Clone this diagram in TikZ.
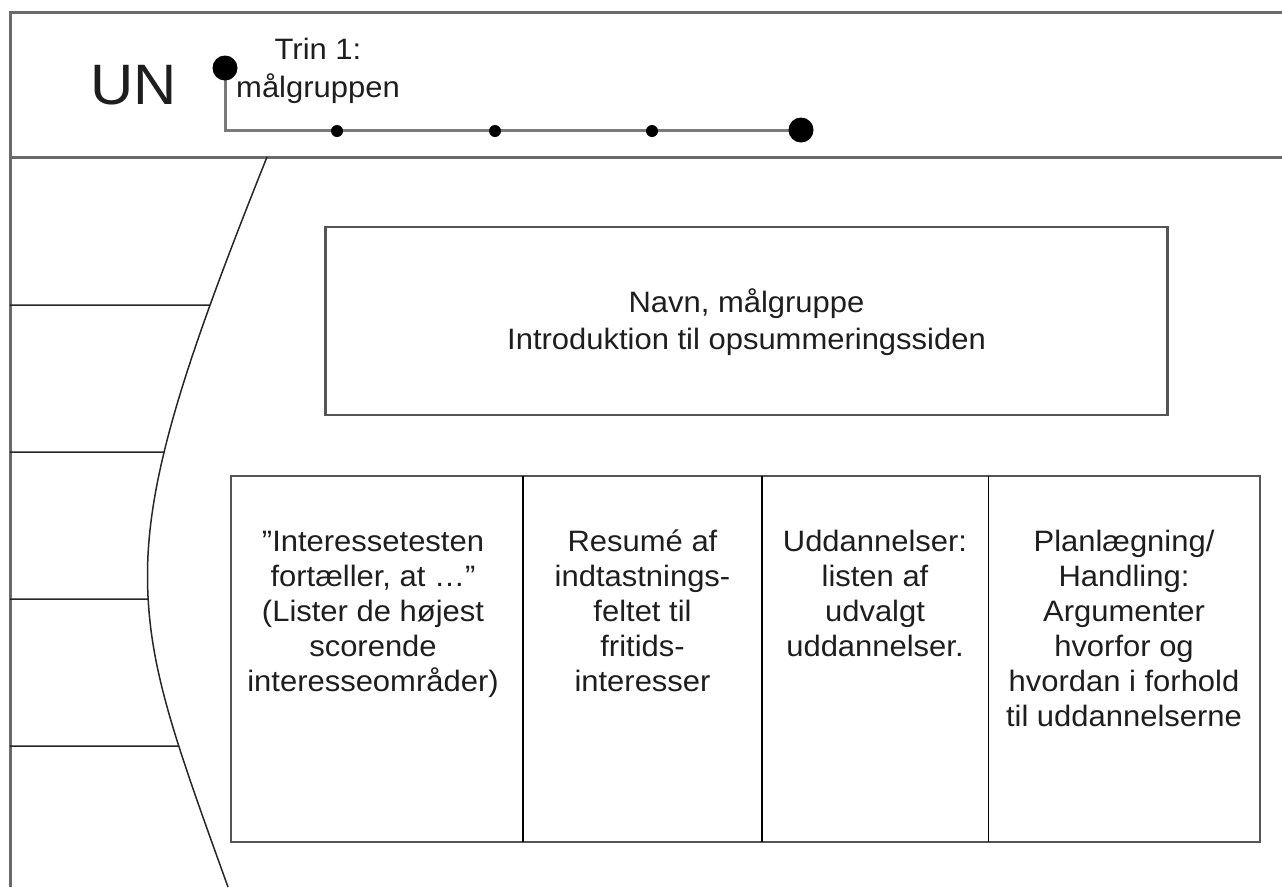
\documentclass[tikz,border=0pt]{standalone}
\usepackage{fontspec}
\setmainfont[FakeStretch=1.05]{Liberation Sans}
\usetikzlibrary{intersections}
\definecolor{framegray}{HTML}{6A6A6A}
\definecolor{linegray}{HTML}{7A7A7A}
\definecolor{boxgray}{HTML}{555555}
\definecolor{txtcol}{HTML}{1E1E1E}
\tikzset{
  frameline/.style={draw=framegray, line width=3pt},
  timeline/.style={draw=linegray, line width=3pt},
  bigdot/.style={circle, fill=black, inner sep=0pt, minimum size=25pt},
  smalldot/.style={circle, fill=black, inner sep=0pt, minimum size=12pt},
  boxline/.style={draw=boxgray, line width=2.5pt},
  divline/.style={draw=black, line width=1.5pt},
  thinline/.style={draw=black!85, line width=1.5pt},
  txt/.style={inner sep=0pt, anchor=north, align=center, text=txtcol, font=\fontsize{29.5}{35}\selectfont},
}
\begin{document}
\begin{tikzpicture}[x=1pt, y=-1pt]
\useasboundingbox (0,0) rectangle (1282,887);
% outer frame and header rule
\draw[frameline] (10,887) -- (10,12) -- (1282,12);
\draw[frameline] (10,157) -- (1282,157);
% title
\node[inner sep=0pt, anchor=base, text=txtcol, font=\fontsize{57}{64}\selectfont] (un) at (134,104) {UN};
% timeline
\coordinate (p0) at (225,68);
\coordinate (p1) at (337,131);
\coordinate (p2) at (495,131);
\coordinate (p3) at (652,131);
\coordinate (p4) at (801,130);
\draw[timeline] (p0) |- (p4);
\node[bigdot] (d0) at (p0) {};
\node[smalldot] (d1) at (p1) {};
\node[smalldot] (d2) at (p2) {};
\node[smalldot] (d3) at (p3) {};
\node[bigdot] (d4) at (p4) {};
\node[txt, font=\fontsize{29.5}{38}\selectfont] (trin) at (318,32.4) {\strut Trin 1:\\målgruppen};
% curved edge
\draw[thinline, name path=edge] (267,157) .. controls (187,357) and (147.5,475) .. (147.5,575)
  .. controls (147.5,665) and (174,737) .. (228,887);
% left horizontal rules
\path[name path=h1] (10,305) -- (300,305);
\path[name path=h2] (10,452) -- (300,452);
\path[name path=h3] (10,599) -- (300,599);
\path[name path=h4] (10,746) -- (300,746);
\draw[thinline, name intersections={of=edge and h1}] (10,305) -- (intersection-1);
\draw[thinline, name intersections={of=edge and h2}] (10,452) -- (intersection-1);
\draw[thinline, name intersections={of=edge and h3}] (10,599) -- (intersection-1);
\draw[thinline, name intersections={of=edge and h4}] (10,746) -- (intersection-1);
% top box
\draw[boxline] (325.5,227) rectangle (1167.5,415);
\node[txt, font=\fontsize{29.5}{37.5}\selectfont] (navn) at (746.5,286) {\strut Navn, målgruppe\\Introduktion til opsummeringssiden};
% bottom boxes
\draw[boxline] (231,476) rectangle (1260,842);
\draw[divline] (523,476) -- (523,842);
\draw[divline] (762,476) -- (762,842);
\draw[divline] (988.5,476) -- (988.5,842);
\node[txt] (c1) at (373,526.5) {\strut ”Interessetesten\\fortæller, at …”\\(Lister de højest\\scorende\\interesseområder)};
\node[txt] (c2) at (642.5,526.5) {\strut Resumé af\\indtastnings-\\feltet til\\fritids-\\interesser};
\node[txt] (c3) at (875,526.5) {\strut Uddannelser:\\listen af\\udvalgt\\uddannelser.};
\node[txt] (c4) at (1124,526.5) {\strut Planlægning/\\Handling:\\Argumenter\\hvorfor og\\hvordan i forhold\\til uddannelserne};
\end{tikzpicture}
\end{document}
